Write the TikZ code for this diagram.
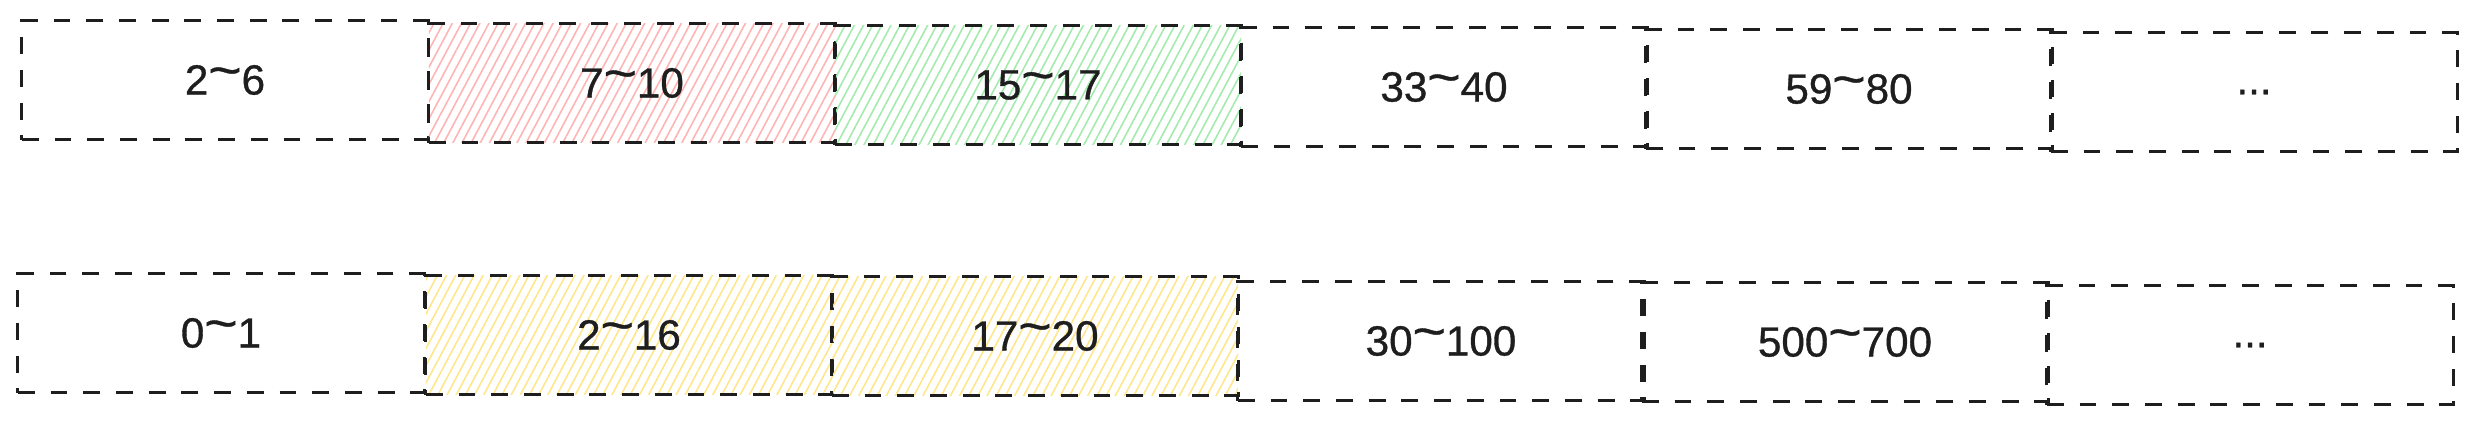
\documentclass[tikz,border=0pt]{standalone}
\usepackage{fontspec}
\setmainfont{Liberation Sans}
\newfontfamily\labelfont{Liberation Sans}[FakeBold=0.8]
\usetikzlibrary{patterns.meta}
\definecolor{ink}{HTML}{1E1E1E}
\definecolor{hatchred}{HTML}{FFB3B3}
\definecolor{hatchgreen}{HTML}{A3EBAD}
\definecolor{hatchyellow}{HTML}{FFE68A}
\newcommand{\tld}{\raisebox{0.17em}{\scalebox{1.35}[1.2]{\textasciitilde}}}
\begin{document}
\begin{tikzpicture}[x=0.01cm, y=-0.01cm,
    cell/.style={draw=ink, line width=0.85pt, dash pattern=on 4.8pt off 4.5pt,
      minimum width=4.06cm, minimum height=1.19cm, inner sep=0pt,
      text=ink, font=\labelfont\fontsize{12}{14}\selectfont},
    hatch/.style={pattern={Lines[angle=62, distance=2.3pt, line width=0.45pt]},
      pattern color=#1}]
  \useasboundingbox (0,0) rectangle (2477,426);
  % upper row
  \path
    (225,80) node[cell] (t1) {2\tld 6}
    (632,83) node[cell, hatch=hatchred] (t2) {7\tld 10}
    (1038,85) node[cell, hatch=hatchgreen] (t3) {15\tld 17}
    (1444,87) node[cell] (t4) {33\tld 40}
    (1849,89) node[cell] (t5) {59\tld 80}
    (2254,92) node[cell] (t6) {...};
  % lower row
  \path
    (221,333) node[cell] (b1) {0\tld 1}
    (629,335) node[cell, hatch=hatchyellow] (b2) {2\tld 16}
    (1035,336) node[cell, hatch=hatchyellow] (b3) {17\tld 20}
    (1441,341) node[cell] (b4) {30\tld 100}
    (1845,342) node[cell] (b5) {500\tld 700}
    (2250,345) node[cell] (b6) {...};
\end{tikzpicture}
\end{document}
